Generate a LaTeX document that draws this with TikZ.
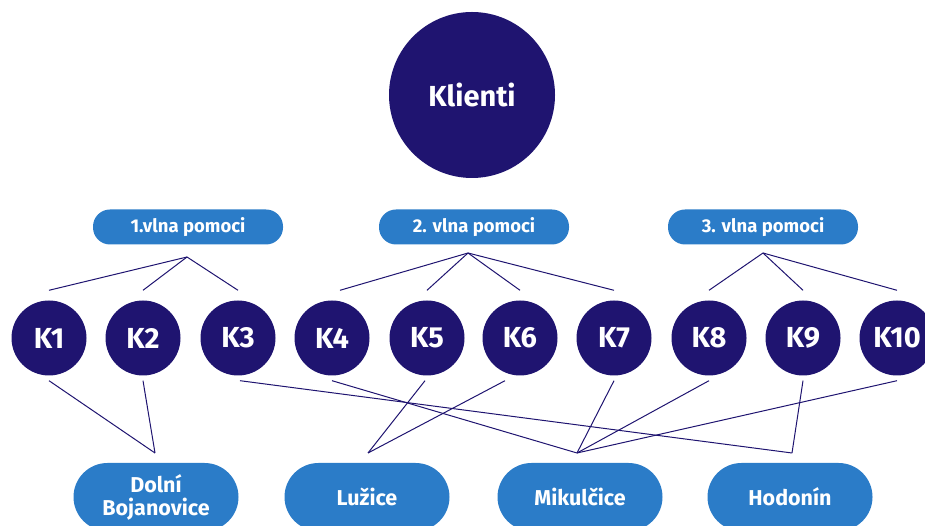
\documentclass[tikz,border=0pt]{standalone}
\usepackage{fontspec}
\setmainfont{Fira Sans}
\usetikzlibrary{calc}
\definecolor{navy}{RGB}{31,20,112}
\definecolor{pillblue}{RGB}{43,124,200}
\tikzset{
  klient/.style={circle, fill=navy, text=white, minimum size=75pt, inner sep=0pt,
    font=\fontsize{29}{31}\selectfont\bfseries},
  vlna/.style={rectangle, rounded corners=17pt, fill=pillblue, text=white,
    minimum width=190pt, minimum height=35pt, inner sep=0pt,
    font=\fontsize{18.5}{20}\selectfont\bfseries},
  obec/.style={rectangle, rounded corners=34pt, fill=pillblue, text=white,
    minimum width=165pt, minimum height=68pt, inner sep=0pt, align=center,
    font=\fontsize{21.5}{23}\selectfont\bfseries},
  spoj/.style={navy, line width=1pt}
}
\begin{document}
\begin{tikzpicture}[x=1pt, y=1pt]
 \useasboundingbox (0,0) rectangle (925,526);

 %top
 \node[klient, minimum size=166pt] (klienti) at (472,431) {Klienti};

 %level 1 -- waves
 \foreach \i/\x/\name in {1/188/1.vlna pomoci, 2/474/2. vlna pomoci, 3/763/3. vlna pomoci} {
   \node[vlna] (w\i) at (\x,299) {\name};
 }
 \coordinate (a1) at (187,269);
 \coordinate (a2) at (468,273);
 \coordinate (a3) at (763,273);

 %level 2 -- clients
 \foreach \i/\x in {1/49, 2/143, 3/238, 4/332, 5/427, 6/520, 7/614, 8/709, 9/803, 10/897} {
   \node[klient] (k\i) at (\x,188) {K\i};
 }

 %level 3 -- villages
 \node[obec] (o1) at (156,29) {Dolní\\Bojanovice};
 \node[obec] (o2) at (367,29) {Lužice};
 \node[obec] (o3) at (580,29) {Mikulčice};
 \node[obec] (o4) at (790,29) {Hodonín};
 \coordinate (b1) at (155,73);
 \coordinate (b2) at (368,73);
 \coordinate (b3) at (577,73);
 \coordinate (b4) at (792,73);

 %lines from waves
 \foreach \a/\k/\dx in {a1/1/0, a1/2/0, a1/3/0, a2/4/8, a2/5/0, a2/6/0, a2/7/0, a3/8/0, a3/9/0, a3/10/0} {
   \draw[spoj] (\a) -- ($(k\k.north)+(\dx,10)$);
 }

 %lines to villages
 \foreach \k/\dx/\b in {1/0/b1, 2/0/b1, 3/2/b4, 4/0/b3, 5/-2/b2, 6/-15/b2, 7/0/b3, 8/0/b3, 9/0/b4, 10/0/b3} {
   \draw[spoj] ($(k\k.south)+(\dx,-5)$) -- (\b);
 }

\end{tikzpicture}
\end{document}
